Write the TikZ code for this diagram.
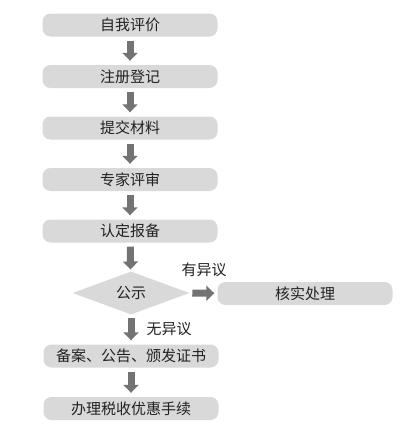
\documentclass[tikz,border=0pt]{standalone}
\usepackage{fontspec}
\setmainfont{Noto Sans CJK SC}
\usetikzlibrary{shapes.geometric,arrows.meta}
\definecolor{boxgray}{HTML}{D9D9D9}
\definecolor{arrgray}{HTML}{737373}
\definecolor{txtgray}{HTML}{222222}
\tikzset{
  stepbox/.style={draw=none, fill=boxgray, rounded corners=8pt, minimum width=175pt, minimum height=23pt, inner sep=0pt, text=txtgray, font=\fontsize{15}{17}\selectfont},
  decision/.style={diamond, draw=none, fill=boxgray, minimum width=117pt, minimum height=43pt, aspect=2.7, inner sep=0pt, text=txtgray, font=\fontsize{15}{17}\selectfont},
  blockarrow/.style={draw=arrgray, line width=7pt, -{Triangle[width=15pt,length=8pt]}, shorten <=4pt, shorten >=4pt},
  lbl/.style={text=txtgray, font=\fontsize{15}{17}\selectfont, inner sep=0pt}
}
\begin{document}
\begin{tikzpicture}[x=1pt,y=-1pt]
\useasboundingbox (0,0) rectangle (403,431);
\node[stepbox] (s1) at (130,25) {自我评价};
\node[stepbox] (s2) at (130,76.5) {注册登记};
\node[stepbox] (s3) at (130,128) {提交材料};
\node[stepbox] (s4) at (130,179.5) {专家评审};
\node[stepbox] (s5) at (130,231) {认定报备};
\node[decision] (d) at (131,293) {公示};
\node[stepbox] (v) at (305,293.5) {核实处理};
\node[stepbox] (s6) at (131,356) {备案、公告、颁发证书};
\node[stepbox] (s7) at (131,408.5) {办理税收优惠手续};
\draw[blockarrow] (s1) -- (s2);
\draw[blockarrow] (s2) -- (s3);
\draw[blockarrow] (s3) -- (s4);
\draw[blockarrow] (s4) -- (s5);
\draw[blockarrow, shorten >=2pt] (s5) -- (d);
\draw[blockarrow, shorten <=3pt, shorten >=3pt] (d) -- (v);
\draw[blockarrow, shorten <=3pt] (d) -- (s6);
\draw[blockarrow] (s6) -- (s7);
\node[lbl] (l1) at (204,270) {有异议};
\node[lbl] (l2) at (169,329) {无异议};
\end{tikzpicture}
\end{document}
